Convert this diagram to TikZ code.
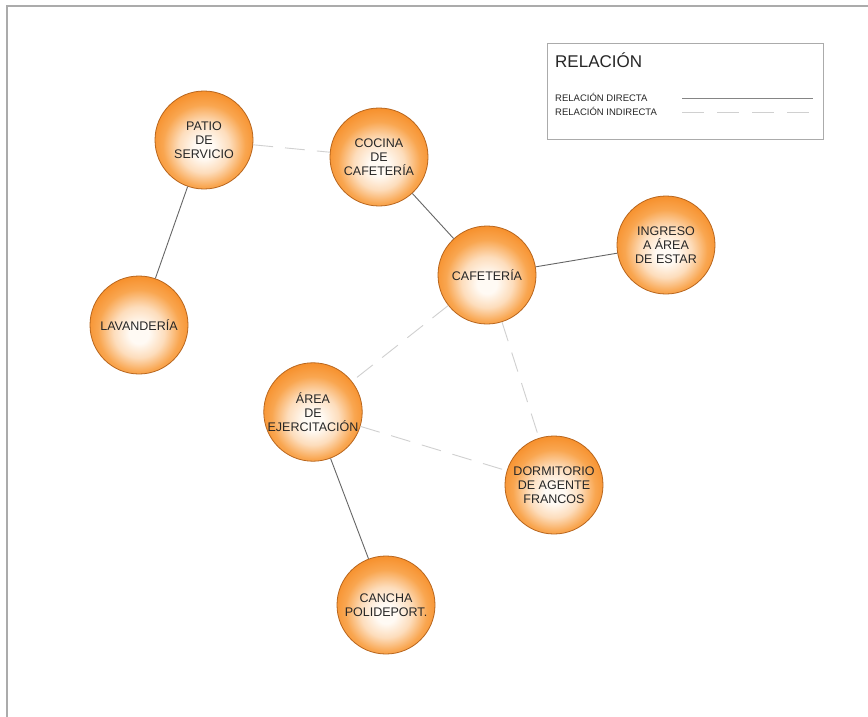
\documentclass[tikz,border=0pt]{standalone}
\usepackage{fontspec}
\setsansfont{Liberation Sans}
\usepackage{xcolor}
\definecolor{orbCore}{HTML}{FFFAF4}
\definecolor{orbSoft}{HTML}{FDDDBC}
\definecolor{orbMid}{HTML}{F9A650}
\definecolor{orbOrange}{HTML}{F68A22}
\definecolor{orbRim}{HTML}{F07C14}
\definecolor{orbEdge}{HTML}{B8661E}
\definecolor{inkGray}{HTML}{262626}
\definecolor{lineDark}{HTML}{666666}
\definecolor{lineLight}{HTML}{D0D0D0}
\definecolor{frameGray}{HTML}{ABABAB}
\usetikzlibrary{positioning}
\pgfdeclareradialshading{orbshade}{\pgfpoint{0bp}{-5bp}}{%
  color(0bp)=(orbCore); color(5bp)=(orbCore); color(13bp)=(orbSoft);
  color(21bp)=(orbMid); color(29bp)=(orbOrange); color(35bp)=(orbRim);
  color(50bp)=(orbRim)}
\tikzset{
  every picture/.append style={font=\sffamily},
  room/.style={circle, draw=orbEdge, line width=0.8pt, shade, shading=orbshade,
    minimum size=98pt, inner sep=0pt, align=center, text=inkGray,
    font=\sffamily\fontsize{12.5}{14}\selectfont},
  directlink/.style={draw=lineDark, line width=0.9pt},
  indirectlink/.style={draw=lineLight, line width=0.9pt, dash pattern=on 20pt off 12pt},
  legendtitle/.style={font=\sffamily\fontsize{17}{20}\selectfont, text=inkGray, anchor=base west, inner sep=0pt},
  legendtext/.style={font=\sffamily\fontsize{9.5}{11}\selectfont, text=inkGray, anchor=base west, inner sep=0pt},
}
\begin{document}
\begin{tikzpicture}[x=1pt,y=-1pt]
  \fill[white] (0,0) rectangle (868,717);
  \useasboundingbox (0,0) rectangle (868,717);

  % sheet border
  \draw[frameGray, line width=1.2pt] (868,6) -- (7,6) -- (7,717);

  % rooms
  \node[room] (patio)   at (204,140) {PATIO\\DE\\SERVICIO};
  \node[room] (cocina)  at (379,157) {COCINA\\DE\\CAFETERÍA};
  \node[room] (cafe)    at (487,275) {CAFETERÍA};
  \node[room] (ingreso) at (666,245) {INGRESO\\A ÁREA\\DE ESTAR};
  \node[room] (lavand)  at (139,325) {LAVANDERÍA};
  \node[room] (ejerc)   at (313,412) {ÁREA\\DE\\EJERCITACIÓN};
  \node[room] (dormit)  at (554,485) {DORMITORIO\\DE AGENTE\\FRANCOS};
  \node[room] (cancha)  at (386,605) {CANCHA\\POLIDEPORT.};

  \draw[directlink] (patio) -- (lavand);
  \draw[directlink] (cocina) -- (cafe);
  \draw[directlink] (cafe) -- (ingreso);
  \draw[directlink] (ejerc) -- (cancha);

  \draw[indirectlink] (patio) -- (cocina);
  \draw[indirectlink] (cafe) -- (ejerc);
  \draw[indirectlink] (cafe) -- (dormit);
  \draw[indirectlink] (ejerc) -- (dormit);

  % legend
  \draw[draw=frameGray, line width=1pt] (547,44) rectangle (823,139);
  \node[legendtitle] (legT) at (555,67) {RELACIÓN};
  \node[legendtext] (legD) at (555,102) {RELACIÓN DIRECTA};
  \node[legendtext] (legI) at (555,115) {RELACIÓN INDIRECTA};
  \coordinate (dA) at (682,98);  \coordinate (dB) at (813,98);
  \coordinate (iA) at (682,112); \coordinate (iB) at (813,112);
  \draw[directlink, draw=lineDark!80] (dA) -- (dB);
  \draw[indirectlink, dash pattern=on 22pt off 13pt] (iA) -- (iB);
\end{tikzpicture}
\end{document}
